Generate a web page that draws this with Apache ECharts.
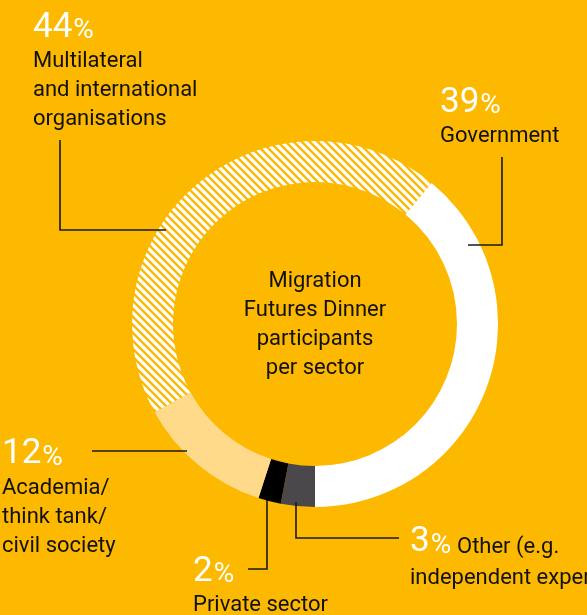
<!DOCTYPE html>
<html><head><meta charset="utf-8">
<script src="https://cdn.jsdelivr.net/npm/echarts@6/dist/echarts.min.js"></script>
<style>html,body{margin:0;padding:0;background:#FDB900;}#c{width:587px;height:615px;}</style>
</head><body><div id="c"></div>
<script>
// ---- data ----
const categories = ['Other', 'Private sector', 'Academia', 'Multilateral', 'Government'];
const values = [3, 2, 12, 44, 39];
const labelTexts = [
  ['Other (e.g.', 'independent experts)'],
  ['Private sector'],
  ['Academia/', 'think tank/', 'civil society'],
  ['Multilateral', 'and international', 'organisations'],
  ['Government']
];
const centerTitle = ['Migration', 'Futures Dinner', 'participants', 'per sector'];

// ---- styles / layout ----
const BG = '#FDB900';
const FONT = 'Roboto';
const segColors = ['#4B484C', '#000000', '#FFDA8A', 'HATCH', '#FFFFFF'];
const layout = [
  { pct: [410, 540.5], name: [457, 546], inline: true, next: [410, 577], line: [[296, 502], [296, 538], [399, 538]] },
  { pct: [193, 570], name: [193, 604.5], line: [[267, 500], [267, 569], [248, 569]] },
  { pct: [2, 452.5], name: [2, 487.5], line: [[92, 451], [187, 451]] },
  { pct: [33, 26], name: [33, 60], line: [[166, 230], [60, 230], [60, 140]] },
  { pct: [440, 101], name: [440, 135], line: [[468, 245], [502, 245], [502, 157]] }
];
const LH = 29;
const NUM_SIZE = 35, PCT_SIZE = 28, TXT_SIZE = 22;

function hatch() {
  const c = document.createElement('canvas');
  c.width = 8; c.height = 8;
  const g = c.getContext('2d');
  g.fillStyle = '#FFFFFF'; g.fillRect(0, 0, 8, 8);
  g.strokeStyle = BG; g.lineWidth = 2.3;
  g.beginPath();
  g.moveTo(-2, -2); g.lineTo(10, 10);
  g.moveTo(-2, 6); g.lineTo(2, 10);
  g.moveTo(6, -2); g.lineTo(10, 2);
  g.stroke();
  return c;
}
const hatchPattern = { image: hatch(), repeat: 'repeat' };

const mctx = document.createElement('canvas').getContext('2d');
function tw(text, size) { mctx.font = size + 'px ' + FONT; return mctx.measureText(text).width; }

const graphics = [];
// y = cap-centre of the text line
function addText(x, y, text, size, color, align) {
  graphics.push({ type: 'text', x: x, y: y + 0.063 * size, z: 100, silent: true,
    style: { text: text, fill: color, font: size + 'px ' + FONT, align: align || 'left', verticalAlign: 'middle' } });
}
categories.forEach((c, i) => {
  const L = layout[i];
  const num = String(values[i]);
  addText(L.pct[0], L.pct[1], num, NUM_SIZE, '#FFFFFF');
  const w = tw(num, NUM_SIZE);
  const base = L.pct[1] + 0.355 * NUM_SIZE;
  addText(L.pct[0] + w + 1, base + 1 - 0.355 * PCT_SIZE, '%', PCT_SIZE, '#FFFFFF');
  labelTexts[i].forEach((t, k) => {
    if (L.inline && k > 0) addText(L.next[0], L.next[1] + (k - 1) * LH, t, TXT_SIZE, '#111111');
    else addText(L.name[0], L.name[1] + k * LH, t, TXT_SIZE, '#111111');
  });
  graphics.push({ type: 'polyline', z: 100, silent: true,
    shape: { points: L.line }, style: { stroke: '#1a1a1a', lineWidth: 1.6, fill: null } });
});
centerTitle.forEach((t, k) => addText(315, 280.5 + k * 29, t, TXT_SIZE, '#111111', 'center'));

const chart = echarts.init(document.getElementById('c'), null, { renderer: 'canvas' });
chart.setOption({
  backgroundColor: BG,
  animation: false,
  series: [{
    type: 'pie',
    silent: true,
    center: [315, 324],
    radius: [142, 183],
    startAngle: 270,
    clockwise: true,
    label: { show: false },
    labelLine: { show: false },
    itemStyle: { borderWidth: 0 },
    data: categories.map((c, i) => ({
      name: c, value: values[i],
      itemStyle: { color: segColors[i] === 'HATCH' ? hatchPattern : segColors[i] }
    }))
  }],
  graphic: graphics
});
</script>
</body></html>
